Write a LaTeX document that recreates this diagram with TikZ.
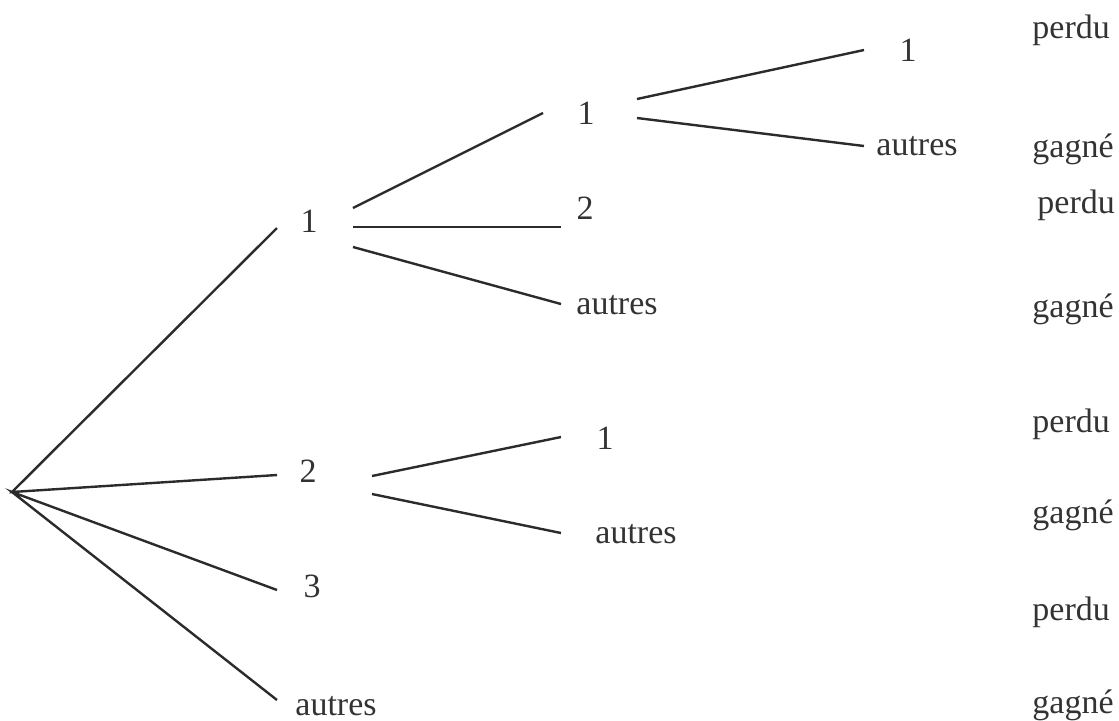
\documentclass[tikz,border=0pt]{standalone}
\usepackage{fontspec}
\setmainfont{Liberation Serif}
\definecolor{ink}{HTML}{2B2B2B}
\definecolor{txt}{HTML}{333333}
\begin{document}
\begin{tikzpicture}[x=0.5pt,y=-0.5pt,
  lbl/.style={inner sep=0pt,anchor=base,text=txt,font=\fontsize{17}{20}\selectfont},
  res/.style={inner sep=0pt,anchor=base west,text=txt,font=\fontsize{17}{20}\selectfont},
  br/.style={draw=ink,line width=1.2pt}]
\useasboundingbox (0,0) rectangle (1119,720);
% labels
\node[lbl] (a1) at (309,232) {1};
\node[lbl] (a2) at (308,482) {2};
\node[lbl] (a3) at (312,597) {3};
\node[lbl] (a4) at (336,715) {autres};
\node[lbl] (b1) at (586,124) {1};
\node[lbl] (b2) at (585,219) {2};
\node[lbl] (b3) at (617,314) {autres};
\node[lbl] (c1) at (605,449) {1};
\node[lbl] (c2) at (636,543) {autres};
\node[lbl] (d1) at (908,61) {1};
\node[lbl] (d2) at (917,155) {autres};
\node[res] (r1) at (1032,38) {perdu};
\node[res] (r2) at (1032,157) {gagné};
\node[res] (r3) at (1037,213) {perdu};
\node[res] (r4) at (1032,317) {gagné};
\node[res] (r5) at (1032,432) {perdu};
\node[res] (r6) at (1032,523) {gagné};
\node[res] (r7) at (1032,620) {perdu};
\node[res] (r8) at (1032,713) {gagné};
% branch end points
\coordinate (root) at (12,492);
\coordinate (ea1) at (277,228);
\coordinate (ea2) at (277,475);
\coordinate (ea3) at (277,590);
\coordinate (ea4) at (277,700);
\coordinate (sa1u) at (353,208);
\coordinate (sa1m) at (353,227);
\coordinate (sa1l) at (353,247);
\coordinate (eb1) at (543,113);
\coordinate (eb2) at (561,227);
\coordinate (eb3) at (561,304);
\coordinate (sb1u) at (637,99);
\coordinate (sb1l) at (637,118);
\coordinate (ed1) at (864,50);
\coordinate (ed2) at (864,146);
\coordinate (sa2u) at (372,476);
\coordinate (sa2l) at (372,494);
\coordinate (ec1) at (561,437);
\coordinate (ec2) at (561,533);
% branches
\draw[br] (ea1) -- (root) -- (ea2);
\draw[br] (ea3) -- (root) -- (ea4);
\draw[br] (sa1u) -- (eb1);
\draw[br] (sa1m) -- (eb2);
\draw[br] (sa1l) -- (eb3);
\draw[br] (sb1u) -- (ed1);
\draw[br] (sb1l) -- (ed2);
\draw[br] (sa2u) -- (ec1);
\draw[br] (sa2l) -- (ec2);
\end{tikzpicture}
\end{document}
